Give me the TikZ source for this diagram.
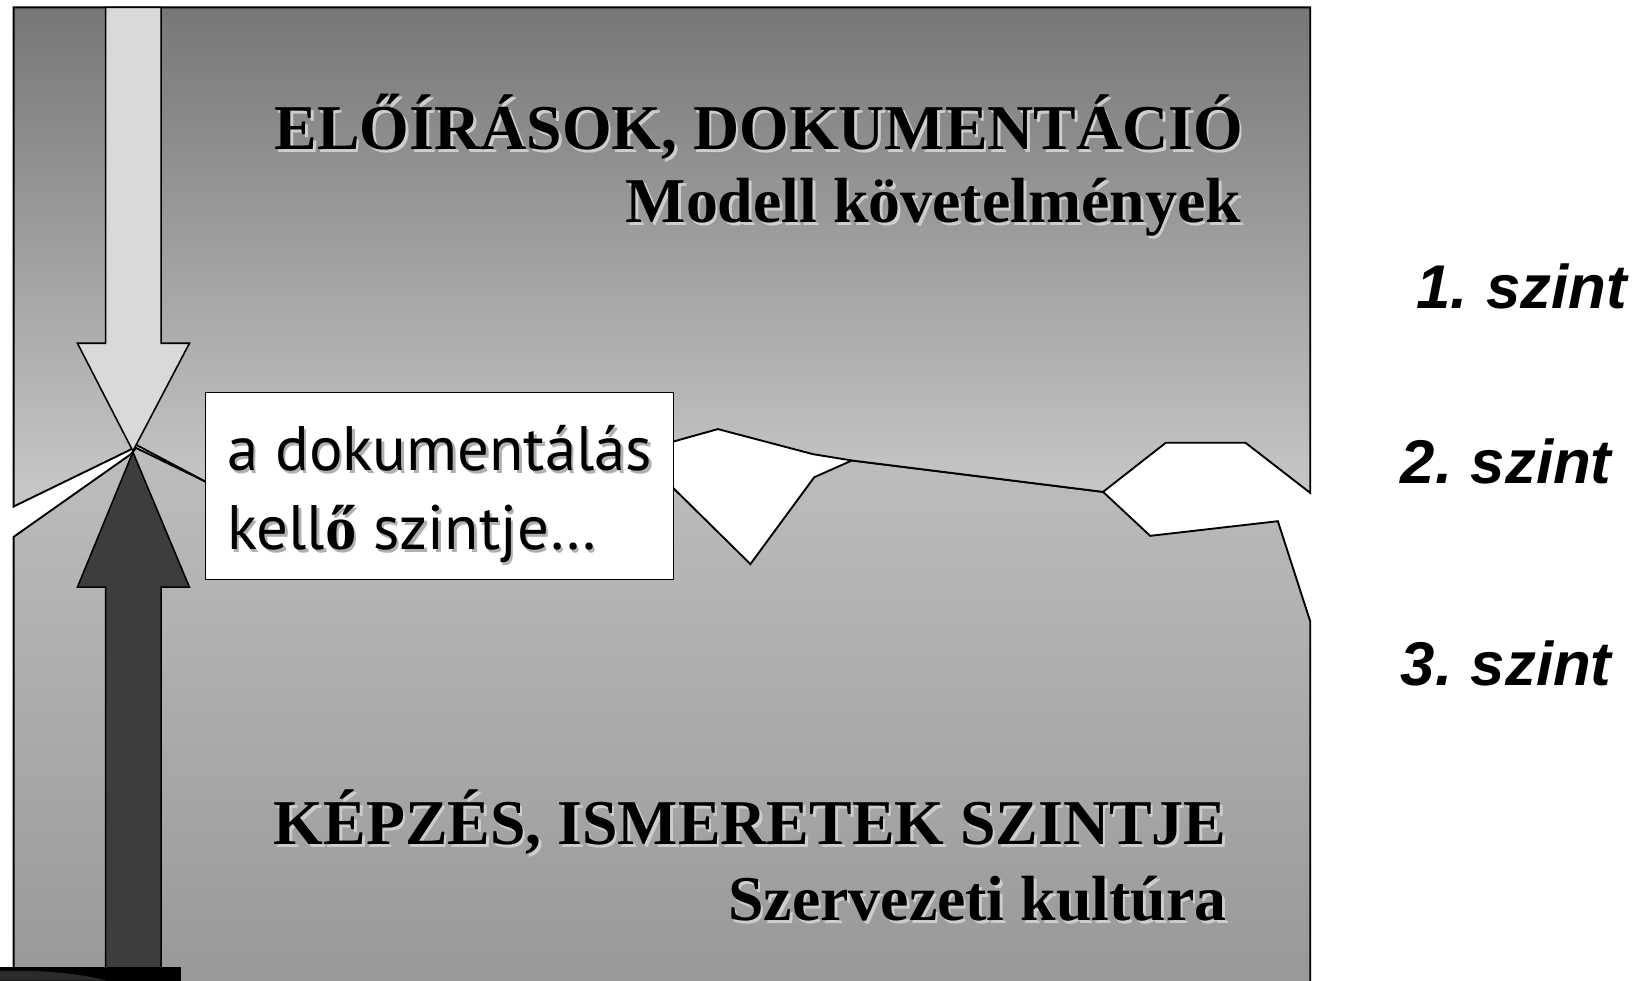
\documentclass[tikz,border=0pt]{standalone}
\usepackage{fontspec}
\setmainfont{Liberation Serif}
\newfontfamily\boxfont{PT Sans}
\newfontfamily\lvlfont{Liberation Sans}
\definecolor{uptop}{HTML}{777777}
\definecolor{upbot}{HTML}{C9C9C9}
\definecolor{lotop}{HTML}{BDBDBD}
\definecolor{lobot}{HTML}{989898}
\definecolor{lightarrow}{HTML}{D9D9D9}
\definecolor{darkarrow}{HTML}{3D3D3D}
\definecolor{shadowlight}{HTML}{CDCDCD}
\definecolor{shadowbox}{HTML}{B0B0B0}
\newcommand\shd[2]{\leavevmode\rlap{\kern2.5pt\raisebox{-2.5pt}{\color{#1}#2}}#2}
\tikzset{
  region/.style={draw=black, line width=1.8pt, line join=miter},
  arrowshape/.style={draw=black, line width=1.5pt, line join=miter},
  title/.style={anchor=base east, inner sep=0pt, font=\fontsize{61}{70}\selectfont\bfseries},
  level/.style={anchor=base east, inner sep=0pt, font=\fontsize{59}{66}\selectfont\lvlfont\bfseries\itshape},
  boxline/.style={anchor=base west, inner sep=0pt, font=\fontsize{60}{66}\selectfont\boxfont}
}
\begin{document}
\begin{tikzpicture}[x=1pt,y=-1pt]
\useasboundingbox (0,0) rectangle (1568,937);
\clip (0,0) rectangle (1568,937);
\fill[white] (0,0) rectangle (1568,937);
% lower region
\shade[top color=lotop, bottom color=lobot] (13,945) -- (13,513) -- (125,434) -- (130,428) -- (196,460) -- (643,466) -- (717,539) -- (778,456) -- (814,440) -- (1054,470) -- (1099,512) -- (1221,498) -- (1252,594) -- (1252,945) -- cycle;
\draw[region] (13,945) -- (13,513) -- (125,434) -- (130,428) -- (196,460) -- (643,466) -- (717,539) -- (778,456) -- (814,440) -- (1054,470) -- (1099,512) -- (1221,498) -- (1252,594) -- (1252,945);
% upper region
\shade[top color=uptop, bottom color=upbot] (13,7) -- (1252,7) -- (1252,471) -- (1190,423) -- (1114,423) -- (1054,470) -- (814,440) -- (777,434) -- (686,410) -- (643,422) -- (643,460) -- (196,460) -- (130,425) -- (124,430) -- (13,484) -- cycle;
\draw[region] (13,7) -- (1252,7) -- (1252,471) -- (1190,423) -- (1114,423) -- (1054,470) -- (814,440) -- (777,434) -- (686,410) -- (643,422) -- (643,460) -- (196,460) -- (130,425) -- (124,430) -- (13,484) -- cycle;
% arrows
\draw[arrowshape, fill=lightarrow] (101,7) -- (154,7) -- (154,328) -- (181,328) -- (127,431) -- (74,328) -- (101,328) -- cycle;
\draw[arrowshape, fill=darkarrow] (127,432) -- (181,561) -- (154,561) -- (154,932) -- (101,932) -- (101,561) -- (74,561) -- cycle;
% bottom black bar
\fill[black] (0,924) rectangle (173,937);
\fill[darkarrow!70!black] (0,928) .. controls (40,926) and (80,931) .. (102,937) -- (0,937) -- cycle;
% text box
\node[draw=black, line width=0.8pt, fill=white, minimum width=447pt, minimum height=178pt, inner sep=0pt, anchor=north west] (box) at (196,375) {};
\node[boxline] (b1) at (217,450) {\shd{shadowbox}{a dokumentálás}};
\node[boxline] (b2) at (217,525) {\shd{shadowbox}{kell{\rmfamily\bfseries ő} szintje…}};
% titles
\node[title] (t1) at (1188,143) {\shd{shadowlight}{ELŐÍRÁSOK, DOKUMENTÁCIÓ}};
\node[title] (t2) at (1186,213) {\shd{shadowlight}{Modell követelmények}};
\node[title] (t3) at (1172,807) {\shd{shadowlight}{KÉPZÉS, ISMERETEK SZINTJE}};
\node[title] (t4) at (1172,880) {\shd{shadowlight}{Szervezeti kultúra}};
% levels
\node[level] (l1) at (1555,295) {1.\kern-4pt{} szint};
\node[level] (l2) at (1540,462) {2.\kern-4pt{} szint};
\node[level] (l3) at (1540,655) {3.\kern-4pt{} szint};
\end{tikzpicture}
\end{document}
